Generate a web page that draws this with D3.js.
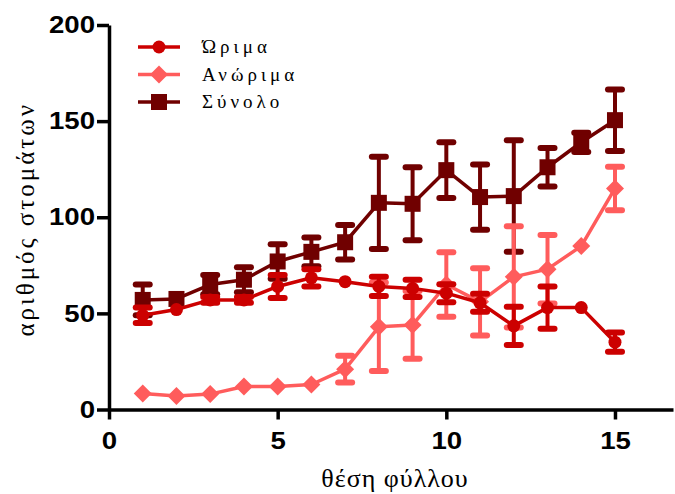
<!DOCTYPE html>
<html>
<head>
<meta charset="utf-8">
<script src="https://cdn.jsdelivr.net/npm/d3@7"></script>
<style>
  html, body { margin: 0; padding: 0; background: #fff; }
  svg { display: block; }
</style>
</head>
<body>
<div id="chart"></div>
<script>
// ---- data ----
const positions = [1, 2, 3, 4, 5, 6, 7, 8, 9, 10, 11, 12, 13, 14, 15];
const seriesNames = ["Ώριμα", "Ανώριμα", "Σύνολο"];
const matureMean = [49, 52, 57, 57, 64, 68.5, 66.5, 64, 63, 60.5, 55.5, 43.5, 53, 53, 35];
const matureErr  = [4, 0, 1.5, 1.5, 6, 4.5, 0, 5, 4.5, 4.7, 4.7, 10, 11, 0, 5];
const immatureMean = [8.3, 7, 8, 12, 12, 13, 21, 43, 44, 65, 56, 69, 73, 85, 115];
const immatureErr  = [0, 0, 0, 0, 0, 0, 7, 23, 17.6, 16.8, 17.5, 26.3, 17.8, 0, 11.3];
const totalMean = [57, 57.5, 65, 67.5, 77, 82, 87, 107.5, 107, 124.5, 110.5, 111, 126, 139, 150.5];
const totalErr  = [8, 0, 5, 6.5, 9, 7.5, 9, 24, 19, 14.5, 17, 29, 10, 5, 16];
const xTicks = [0, 5, 10, 15];
const yTicks = [0, 50, 100, 150, 200];
const xTitle = "θέση φύλλου";
const yTitle = "αριθμός στομάτων";

const colors = { "Ώριμα": "#cc0000", "Ανώριμα": "#ff5c5c", "Σύνολο": "#700000" };
const shapes = { "Ώριμα": "circle", "Ανώριμα": "diamond", "Σύνολο": "square" };

const series = [
  { name: "Σύνολο", mean: totalMean, err: totalErr },
  { name: "Ανώριμα", mean: immatureMean, err: immatureErr },
  { name: "Ώριμα", mean: matureMean, err: matureErr }
];

// ---- layout ----
const W = 675, H = 494;
const svg = d3.select("#chart").append("svg").attr("width", W).attr("height", H);

const x = d3.scaleLinear().domain([0, 16.72]).range([109, 673]);
const y = d3.scaleLinear().domain([0, 200]).range([409.5, 25]);

function marker(g, shape, cx, cy, color) {
  if (shape === "circle") {
    g.append("circle").attr("cx", cx).attr("cy", cy).attr("r", 6.5).attr("fill", color);
  } else if (shape === "square") {
    g.append("rect").attr("x", cx - 8).attr("y", cy - 8).attr("width", 16).attr("height", 16).attr("fill", color);
  } else {
    const s = 9;
    g.append("path").attr("d", `M${cx},${cy - s}L${cx + s},${cy}L${cx},${cy + s}L${cx - s},${cy}Z`).attr("fill", color);
  }
}

// ---- data marks ----
series.forEach(s => {
  const color = colors[s.name];
  const g = svg.append("g");
  positions.forEach((p, i) => {
    const e = s.err[i];
    if (e <= 0) return;
    const cx = x(p), top = y(s.mean[i] + e), bot = y(s.mean[i] - e);
    g.append("line").attr("x1", cx).attr("x2", cx).attr("y1", top).attr("y2", bot)
      .attr("stroke", color).attr("stroke-width", 4);
    [top, bot].forEach(yy => {
      g.append("line").attr("x1", cx - 7).attr("x2", cx + 7).attr("y1", yy).attr("y2", yy)
        .attr("stroke", color).attr("stroke-width", 6).attr("stroke-linecap", "round");
    });
  });
  const line = d3.line().x((d, i) => x(positions[i])).y(d => y(d));
  g.append("path").attr("d", line(s.mean)).attr("fill", "none")
    .attr("stroke", color).attr("stroke-width", 3.5).attr("stroke-linejoin", "round");
  positions.forEach((p, i) => marker(g, shapes[s.name], x(p), y(s.mean[i]), color));
});

// ---- axes ----
const xAxis = svg.append("g").attr("transform", `translate(0,${y(0)})`)
  .call(d3.axisBottom(x).tickValues(xTicks).tickSize(10).tickPadding(12).tickSizeOuter(0));
const yAxis = svg.append("g").attr("transform", `translate(${x(0)},0)`)
  .call(d3.axisLeft(y).tickValues(yTicks).tickSize(12).tickPadding(2).tickSizeOuter(0));
[xAxis, yAxis].forEach(a => {
  a.select(".domain").attr("stroke", "#000").attr("stroke-width", 3.5);
  a.selectAll(".tick line").attr("stroke", "#000").attr("stroke-width", 3.5);
  a.selectAll(".tick text").attr("fill", "#000")
    .style("font-family", "'Liberation Sans', Arial, sans-serif")
    .style("font-weight", "bold").style("font-size", "24px");
});
// widen tick labels horizontally (reference digits are broad)
yAxis.selectAll(".tick text").each(function() {
  const t = d3.select(this);
  const tx = +t.attr("x");
  t.attr("x", 0).attr("transform", `translate(${tx},0) scale(1.15,1)`);
});
xAxis.selectAll(".tick text").attr("transform", "scale(1.15,1)");

// ---- titles ----
svg.append("text").attr("x", 395).attr("y", 487)
  .attr("text-anchor", "middle")
  .style("font-family", "'Liberation Serif', 'Times New Roman', serif")
  .style("font-size", "26px").style("letter-spacing", "1px").text(xTitle);
svg.append("text").attr("transform", `translate(34,${(y(0) + y(200)) / 2 + 2}) rotate(-90)`)
  .attr("text-anchor", "middle")
  .style("font-family", "'Liberation Serif', 'Times New Roman', serif")
  .style("font-size", "25px").style("letter-spacing", "3px").text(yTitle);

// ---- legend ----
const legendRows = [47, 74.5, 102];
seriesNames.forEach((name, i) => {
  const ly = legendRows[i];
  const g = svg.append("g");
  g.append("line").attr("x1", 138).attr("x2", 180).attr("y1", ly).attr("y2", ly)
    .attr("stroke", colors[name]).attr("stroke-width", 3.5);
  marker(g, shapes[name], 159, ly, colors[name]);
  g.append("text").attr("x", 202).attr("y", ly + 6)
    .style("font-family", "'Liberation Serif', 'Times New Roman', serif")
    .style("font-size", "19px").style("letter-spacing", "4px").text(name);
});
</script>
</body>
</html>
